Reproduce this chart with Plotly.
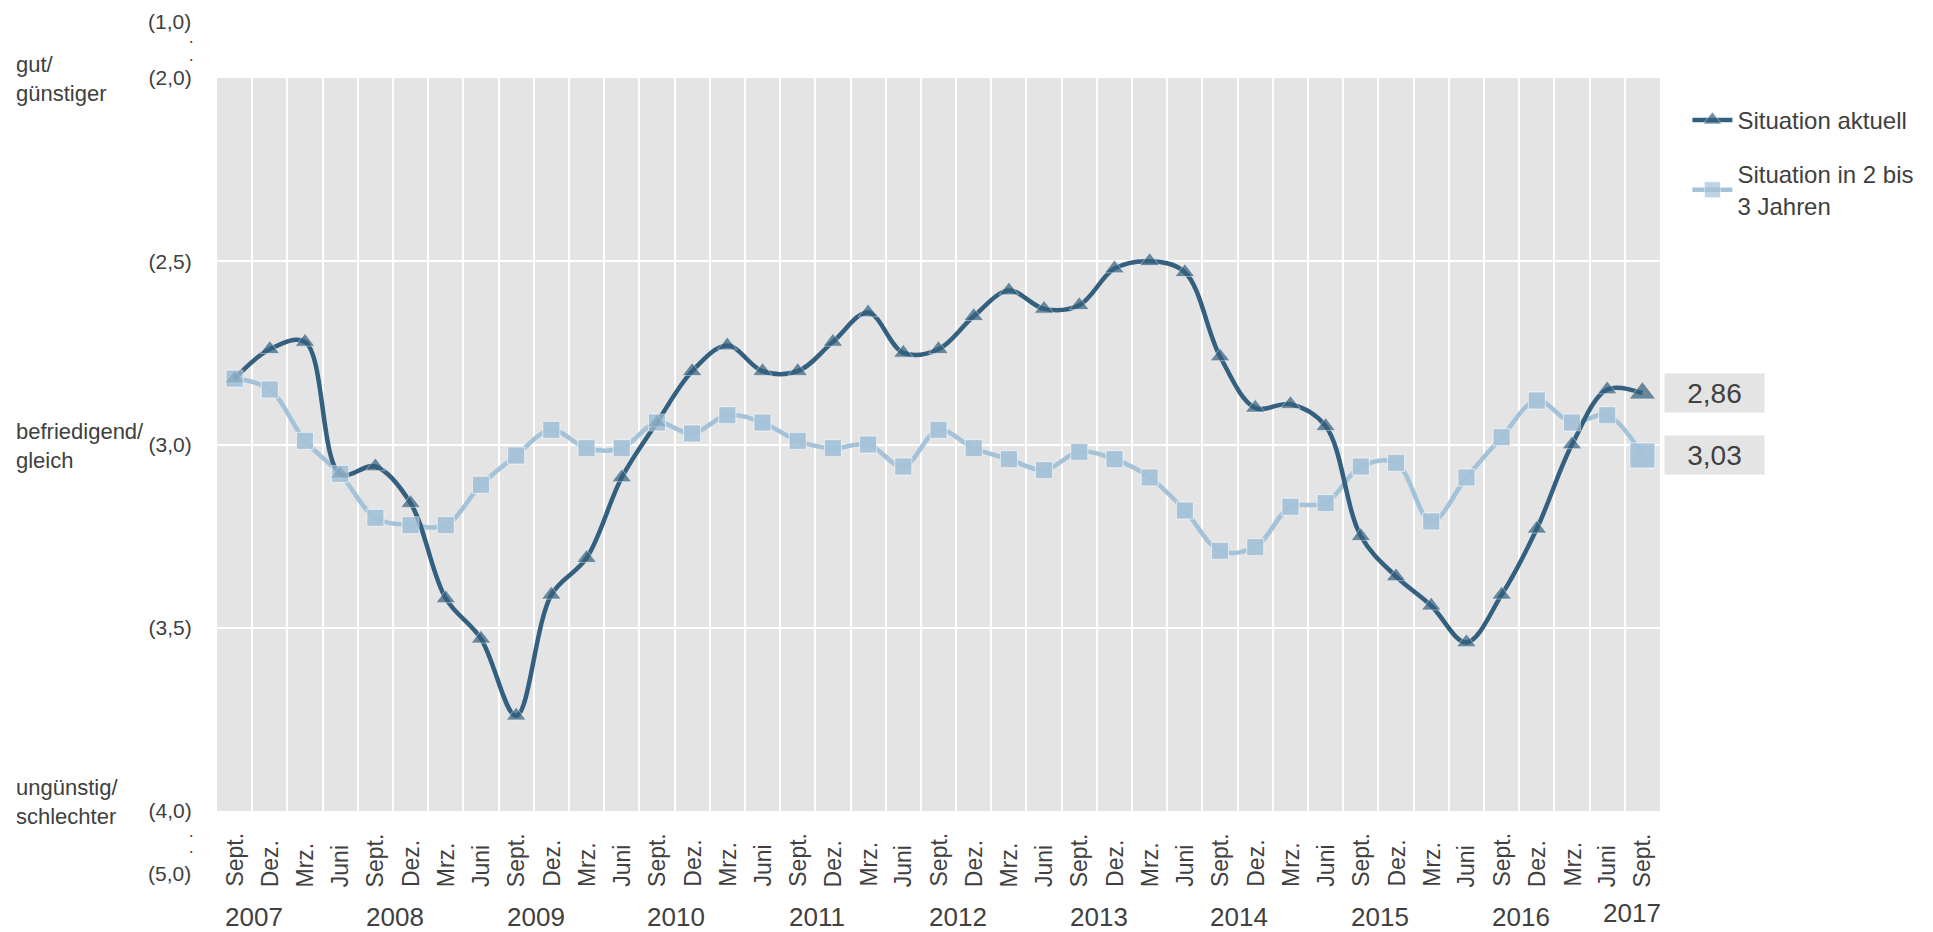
import plotly.graph_objects as go

# ---------------- data ----------------
months = ["Sept.", "Dez.", "Mrz.", "Juni"] * 10 + ["Sept."]
years = ["2007", "2008", "2009", "2010", "2011", "2012", "2013", "2014", "2015", "2016", "2017"]

aktuell = [2.82, 2.74, 2.72, 3.08, 3.06, 3.16, 3.42, 3.53, 3.74, 3.41,
           3.31, 3.09, 2.94, 2.80, 2.73, 2.80, 2.80, 2.72, 2.64, 2.75,
           2.74, 2.65, 2.58, 2.63, 2.62, 2.52, 2.50, 2.53, 2.76, 2.90,
           2.89, 2.95, 3.25, 3.36, 3.44, 3.54, 3.41, 3.23, 3.00, 2.85,
           2.86]
zukunft = [2.82, 2.85, 2.99, 3.08, 3.20, 3.22, 3.22, 3.11, 3.03, 2.96,
           3.01, 3.01, 2.94, 2.97, 2.92, 2.94, 2.99, 3.01, 3.00, 3.06,
           2.96, 3.01, 3.04, 3.07, 3.02, 3.04, 3.09, 3.18, 3.29, 3.28,
           3.17, 3.16, 3.06, 3.05, 3.21, 3.09, 2.98, 2.88, 2.94, 2.92,
           3.03]

y_ticks = [2.0, 2.5, 3.0, 3.5, 4.0]
y_ticktext = ["(2,0)", "(2,5)", "(3,0)", "(3,5)", "(4,0)"]
side_labels = ["gut/<br>günstiger", "befriedigend/<br>gleich", "ungünstig/<br>schlechter"]
side_values = [2.0, 3.0, 4.0]

# ---------------- style ----------------
DARK = "#34607f"
LIGHT = "#a4c2d8"
TXT = "#404040"
FONT = "Liberation Sans, Arial, sans-serif"

n = len(months)
x = list(range(n))

fig = go.Figure()

sq_sizes = [17] * (n - 1) + [25]
tri_sizes = [17] * (n - 1) + [23]
mline = dict(color="rgba(255,255,255,0.6)", width=1)

fig.add_trace(go.Scatter(
    x=x, y=zukunft, mode="lines+markers", name="Situation in 2 bis<br>3 Jahren",
    line=dict(color=LIGHT, width=4.5, shape="spline", smoothing=1),
    marker=dict(symbol="square", size=sq_sizes, color=LIGHT, line=mline),
    legendrank=2, legendgroup="b", hoverinfo="skip"))

fig.add_trace(go.Scatter(
    x=x, y=aktuell, mode="lines+markers", name="Situation aktuell",
    line=dict(color=DARK, width=4.5, shape="spline", smoothing=1),
    marker=dict(symbol="triangle-up", size=tri_sizes, color=DARK, line=mline),
    legendrank=1, legendgroup="a", hoverinfo="skip"))

fig.add_trace(go.Scatter(
    x=x, y=zukunft, mode="markers", showlegend=False,
    marker=dict(symbol="square", size=sq_sizes, color=LIGHT, line=mline),
    hoverinfo="skip"))

annotations = []
# month labels (rotated, bottom aligned)
for i, m in enumerate(months):
    annotations.append(dict(x=i, y=0, xref="x", yref="paper", text=m, textangle=-90,
                            showarrow=False, xanchor="center", yanchor="bottom",
                            yshift=-78, font=dict(family=FONT, size=23, color=TXT)))
# year labels
for k, yr in enumerate(years):
    if k < len(years) - 1:
        pos, ys = 4 * k + 0.55, -106
    else:
        pos, ys = n - 1.3, -102
    annotations.append(dict(x=pos, y=0, xref="x", yref="paper", text=yr, showarrow=False,
                            xanchor="center", yanchor="middle", yshift=ys,
                            font=dict(family=FONT, size=26, color=TXT)))
# side labels
for lab, v in zip(side_labels, side_values):
    annotations.append(dict(x=0, y=v, xref="paper", yref="y", text=lab, showarrow=False,
                            xanchor="left", yanchor="middle", xshift=-203, align="left",
                            yshift=(-1 if v < 4 else 9),
                            font=dict(family=FONT, size=22, color=TXT)))
# axis break labels
annotations.append(dict(x=0, y=2.0, xref="paper", yref="y", text="(1,0)", showarrow=False,
                        xanchor="right", yanchor="middle", xshift=-24, yshift=57,
                        font=dict(family=FONT, size=21, color=TXT)))
annotations.append(dict(x=0, y=4.0, xref="paper", yref="y", text="(5,0)", showarrow=False,
                        xanchor="right", yanchor="middle", xshift=-24, yshift=-62,
                        font=dict(family=FONT, size=21, color=TXT)))
for v, ys in [(2.0, 37), (2.0, 19), (4.0, -24), (4.0, -40)]:
    annotations.append(dict(x=0, y=v, xref="paper", yref="y", text="•", showarrow=False,
                            xanchor="center", yanchor="middle", xshift=-26, yshift=ys,
                            borderpad=0, font=dict(family=FONT, size=7, color=TXT)))
# value boxes for last points
for val in [aktuell[-1], zukunft[-1]]:
    annotations.append(dict(x=1, y=val, xref="paper", yref="y",
                            text=f"{val:.2f}".replace(".", ","), showarrow=False,
                            xanchor="left", yanchor="middle", xshift=4,
                            width=95, height=34, borderpad=2, bgcolor="#e4e4e4",
                            font=dict(family=FONT, size=28, color=TXT)))

# page has an 8px body margin: figure placed at (8, 8)
fig.update_layout(
    width=1925, height=924,
    margin=dict(l=209, r=273, t=70, b=121, autoexpand=False),
    paper_bgcolor="white", plot_bgcolor="#e4e4e4",
    showlegend=True,
    legend=dict(x=1.019, y=0.973, xanchor="left", yanchor="top", bgcolor="rgba(0,0,0,0)",
                font=dict(family=FONT, size=24, color=TXT), tracegroupgap=20,
                itemwidth=40),
    annotations=annotations,
)

fig.update_xaxes(range=[-0.5, n - 0.5], tickvals=[i - 0.5 for i in range(n + 1)],
                 showticklabels=False, showgrid=True, gridcolor="white", gridwidth=2,
                 zeroline=False, ticks="", showline=False)
fig.update_yaxes(range=[4.0, 2.0], tickvals=y_ticks, ticktext=y_ticktext,
                 showgrid=True, gridcolor="white", gridwidth=2, zeroline=False,
                 ticks="outside", ticklen=20, tickcolor="rgba(0,0,0,0)",
                 tickfont=dict(family=FONT, size=21, color=TXT), showline=False)

fig.write_html("out.html")
